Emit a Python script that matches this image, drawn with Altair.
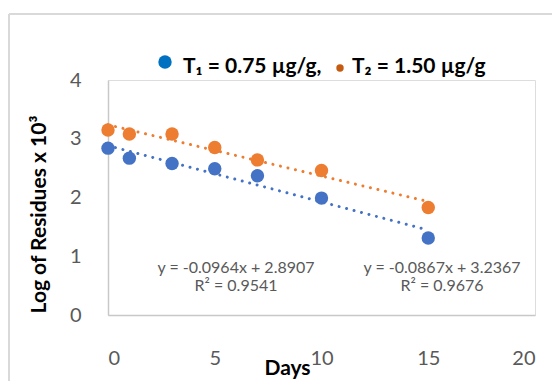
import altair as alt
import pandas as pd

# ---- data ----
days = [0, 1, 3, 5, 7, 10, 15]
t1_values = [2.84, 2.67, 2.58, 2.49, 2.37, 1.99, 1.31]
t2_values = [3.15, 3.08, 3.08, 2.85, 2.64, 2.46, 1.83]
series_names = ["T1", "T2"]
point_colors = ["#4472c4", "#ed7d31"]
legend_labels = ["T\u2081 = 0.75 \u00b5g/g,", "T\u2082 = 1.50 \u00b5g/g"]
legend_colors = ["#0070c0", "#c55a11"]
eq1_lines = ["y = -0.0964x + 2.8907", "R\u00b2 = 0.9541"]
eq2_lines = ["y = -0.0867x + 3.2367", "R\u00b2 = 0.9676"]
x_ticks = [0, 5, 10, 15, 20]
y_ticks = [0, 1, 2, 3, 4]

FONT = "Lato"

df = pd.DataFrame({
    "day": days * 2,
    "value": t1_values + t2_values,
    "series": [series_names[0]] * len(days) + [series_names[1]] * len(days),
})

color = alt.Color("series:N", scale=alt.Scale(domain=series_names, range=point_colors), legend=None)

x_enc = alt.X(
    "day:Q",
    scale=alt.Scale(domain=[0, 20], nice=False),
    axis=alt.Axis(
        values=x_ticks, format="d", grid=False, ticks=False, domainColor="#c8c8c8", domainWidth=1.5,
        labelFontSize=20, labelColor="#595959", labelPadding=33, labelFont=FONT,
        title="Days", titleFont=FONT, titleFontSize=21, titleFontWeight="bold", titleColor="#000000",
        titleX=179, titleY=53, titleBaseline="middle", titleAlign="center",
    ),
)
y_enc = alt.Y(
    "value:Q",
    scale=alt.Scale(domain=[0, 4], nice=False),
    axis=alt.Axis(
        values=y_ticks, format="d", grid=False, ticks=False, domainColor="#c8c8c8", domainWidth=1.5,
        labelFontSize=20, labelColor="#595959", labelPadding=27, labelFont=FONT,
        title="Log of Residues x 10\u00b3", titleFont=FONT, titleFontSize=21, titleFontWeight="bold",
        titleColor="#000000", titleX=-69, titleY=134, titleBaseline="middle", titleAlign="center",
        titleAngle=270,
    ),
)

trend = alt.Chart(df).transform_regression(
    "day", "value", groupby=["series"]
).mark_line(strokeWidth=3, strokeDash=[0.01, 7.7], strokeCap="round").encode(
    x=alt.X("day:Q"), y=alt.Y("value:Q"), color=color
)

points = alt.Chart(df).mark_circle(size=180, opacity=1).encode(x=x_enc, y=y_enc, color=color)

one = pd.DataFrame({"k": [0]})

border_top = alt.Chart(one).mark_rule(color="#d9d9d9", strokeWidth=2).encode(
    x=alt.value(-99), x2=alt.value(470), y=alt.value(-66))
border_left = alt.Chart(one).mark_rule(color="#d9d9d9", strokeWidth=2).encode(
    x=alt.value(-99), y=alt.value(-66), y2=alt.value(400))

leg_dot1 = alt.Chart(one).mark_circle(size=180, opacity=1, color=legend_colors[0]).encode(
    x=alt.value(57), y=alt.value(-18))
leg_dot2 = alt.Chart(one).mark_circle(size=55, opacity=1, color=legend_colors[1]).encode(
    x=alt.value(232), y=alt.value(-12))
leg_txt1 = alt.Chart(one).mark_text(
    text=legend_labels[0], font=FONT, fontSize=21, fontWeight="bold", align="left",
    baseline="alphabetic", color="#000000").encode(x=alt.value(75), y=alt.value(-7))
leg_txt2 = alt.Chart(one).mark_text(
    text=legend_labels[1], font=FONT, fontSize=21, fontWeight="bold", align="left",
    baseline="alphabetic", color="#000000").encode(x=alt.value(244), y=alt.value(-7))

def eq_layer(lines, cx):
    return alt.Chart(one).mark_text(
        text=lines, font=FONT, fontSize=16, color="#595959", align="center",
        baseline="alphabetic", lineHeight=18).encode(x=alt.value(cx), y=alt.value(193))

eq1 = eq_layer(eq1_lines, 128)
eq2 = eq_layer(eq2_lines, 334)

chart = alt.layer(
    border_top, border_left, trend, points, leg_dot1, leg_dot2, leg_txt1, leg_txt2, eq1, eq2
).properties(
    width=427, height=235,
    padding={"left": 100, "top": 72, "right": 17, "bottom": 66},
    autosize=alt.AutoSizeParams(type="none"),
).configure_view(strokeWidth=0).configure(font=FONT, background="#ffffff")

chart.save("out.html", embed_options={"renderer": "svg", "actions": False})
